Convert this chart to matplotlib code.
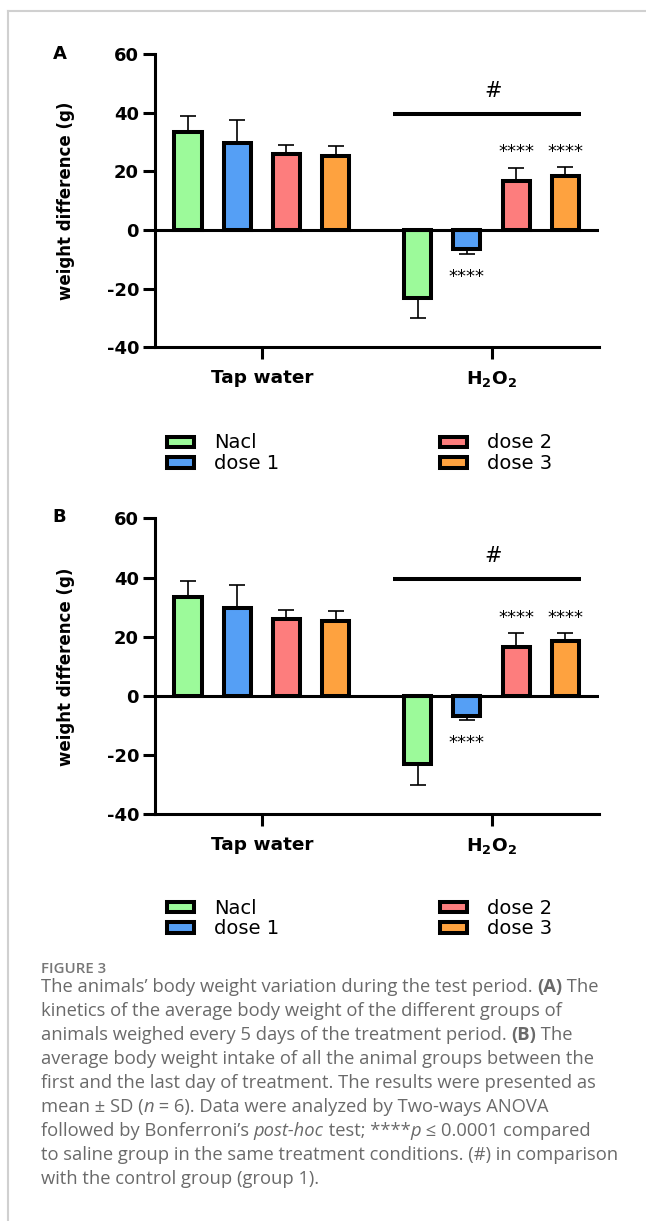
import matplotlib
matplotlib.use("Agg")
import matplotlib.pyplot as plt
from matplotlib.patches import Patch
from matplotlib.lines import Line2D

plt.rcParams["axes.unicode_minus"] = False
plt.rcParams["mathtext.fontset"] = "dejavusans"

# data (same values in panel A and B)
groups = ["Tap water", r"$\mathbf{H_2O_2}$"]
treatments = ["Nacl", "dose 1", "dose 2", "dose 3"]
colors = ["#9cfa9a", "#559ff5", "#fd7d7d", "#fea23f"]
tap_mean = [33.3, 29.8, 25.9, 25.3]
tap_sd = [5.4, 7.7, 3.0, 3.3]
h2o2_mean = [-23.1, -6.6, 16.6, 18.5]
h2o2_sd = [6.9, 1.4, 4.6, 2.9]
h2o2_stars = ["", "****", "****", "****"]
yticks = [-40, -20, 0, 20, 40, 60]
sig_level = 39.4

caption_title = "FIGURE 3"
caption_lines = [
    [("The animals\u2019 body weight variation during the test period. ", "n"), ("(A)", "b"), (" The", "n")],
    [("kinetics of the average body weight of the different groups of", "n")],
    [("animals weighed every 5 days of the treatment period. ", "n"), ("(B)", "b"), (" The", "n")],
    [("average body weight intake of all the animal groups between the", "n")],
    [("first and the last day of treatment. The results were presented as", "n")],
    [("mean \u00b1 SD (", "n"), ("n", "i"), (" = 6). Data were analyzed by Two-ways ANOVA", "n")],
    [("followed by Bonferroni\u2019s ", "n"), ("post-hoc", "i"), (" test; ****", "n"), ("p", "i"),
     (" \u2264 0.0001 compared", "n")],
    [("to saline group in the same treatment conditions. (#) in comparison", "n")],
    [("with the control group (group 1).", "n")],
]

W, H = 646, 1221
fig = plt.figure(figsize=(W / 100, H / 100), dpi=100)


def px_box(left, top, right, bottom):
    return [left / W, 1 - bottom / H, (right - left) / W, (bottom - top) / H]


gap = 0.67
x_tap = [0, 1, 2, 3]
x_h2o2 = [3 + gap + i for i in range(1, 5)]


def draw_panel(ax, letter, letter_xy, legend_top):
    ax.bar(x_tap, tap_mean, width=0.55, color=colors, edgecolor="black", linewidth=2.9, zorder=3)
    ax.bar(x_h2o2, h2o2_mean, width=0.55, color=colors, edgecolor="black", linewidth=2.9, zorder=3)

    means = tap_mean + h2o2_mean
    sds = tap_sd + h2o2_sd
    lower = [s if m < 0 else 0 for m, s in zip(means, sds)]
    upper = [s if m >= 0 else 0 for m, s in zip(means, sds)]
    ax.errorbar(x_tap + x_h2o2, means, yerr=[lower, upper], fmt="none", ecolor="black",
                elinewidth=1.2, capsize=6, capthick=1.2, zorder=2)

    ax.axhline(0, color="black", lw=2.2, zorder=4)
    ax.plot([x_h2o2[0] - 0.51, x_h2o2[-1] + 0.32], [sig_level, sig_level], color="black",
            lw=2.9, solid_capstyle="butt")
    ax.text((x_h2o2[0] + x_h2o2[-1]) / 2 + 0.03, 45.4, "#", fontsize=15, ha="center", va="baseline")
    for xi, m, st in zip(x_h2o2, h2o2_mean, h2o2_stars):
        if not st:
            continue
        if m >= 0:
            ax.text(xi, 24.8, st, fontsize=13, ha="center", va="baseline")
        else:
            ax.text(xi, -17.6, st, fontsize=13, ha="center", va="baseline")

    ax.set_xlim(-0.671, 8.354)
    ax.set_ylim(-40, 60)
    ax.set_yticks(yticks)
    ax.set_yticklabels([str(t) for t in yticks], fontsize=13, fontweight="bold")
    ax.set_xticks([1.5, (x_h2o2[1] + x_h2o2[2]) / 2])
    ax.set_xticklabels(groups, fontsize=13.3, fontweight="bold")
    ax.tick_params(axis="both", length=8.6, width=2.2, direction="out")
    ax.tick_params(axis="y", pad=2.9)
    ax.tick_params(axis="x", pad=7)
    for side in ["top", "right"]:
        ax.spines[side].set_visible(False)
    for side in ["left", "bottom"]:
        ax.spines[side].set_linewidth(2.2)

    ax.set_ylabel("weight difference (g)", fontsize=12, fontweight="bold")
    ax.yaxis.set_label_coords(-0.18, 0.5)

    fig.text(letter_xy[0] / W, 1 - letter_xy[1] / H, letter, fontsize=13, fontweight="bold",
             ha="center", va="center")

    handles = [Patch(facecolor=c, edgecolor="black", linewidth=2.9, label=l)
               for c, l in zip(colors, treatments)]
    ax.legend(handles=handles, ncol=2, loc="upper left", bbox_to_anchor=(167 / W, 1 - legend_top / H),
              bbox_transform=fig.transFigure, frameon=False, fontsize=14, handlelength=1.4,
              handleheight=0.42, handletextpad=1.0, columnspacing=8.3, labelspacing=0.1,
              borderpad=0, borderaxespad=0)


axA = fig.add_axes(px_box(155, 54, 599, 347.4))
draw_panel(axA, "A", (60, 54), 433.5)
axB = fig.add_axes(px_box(155, 518.3, 599, 814.4))
draw_panel(axB, "B", (59, 517.5), 898.5)

# frame lines of the figure box
fig.add_artist(Line2D([8 / W, 1], [1 - 11 / H, 1 - 11 / H], transform=fig.transFigure,
                      color="#d0d0d0", lw=1.5))
fig.add_artist(Line2D([8 / W, 8 / W], [1 - 11 / H, 0], transform=fig.transFigure,
                      color="#d0d0d0", lw=1.5))

# caption
renderer = fig.canvas.get_renderer()
cap_font = ["Open Sans", "DejaVu Sans"]
cap_size = 13.2
styles = {"n": {}, "b": {"fontweight": "bold"}, "i": {"fontstyle": "italic"}}


def run_width(s, kw):
    t1 = fig.text(0, 0, "|" + s + "|", **kw)
    t2 = fig.text(0, 0, "||", **kw)
    w = t1.get_window_extent(renderer).width - t2.get_window_extent(renderer).width
    t1.remove()
    t2.remove()
    return w


fig.text(41 / W, 1 - 973 / H, caption_title, fontsize=10.8, fontweight="semibold",
         family=cap_font, color="#777777", va="baseline")

for i, line in enumerate(caption_lines):
    x = 41.0
    y = 992 + 24 * i
    for text, st in line:
        kw = dict(fontsize=cap_size, family=cap_font, color="#6a6a6a", va="baseline")
        kw.update(styles[st])
        fig.text(x / W, 1 - y / H, text, **kw)
        x += run_width(text, kw)

fig.savefig("out.png", dpi=100)
